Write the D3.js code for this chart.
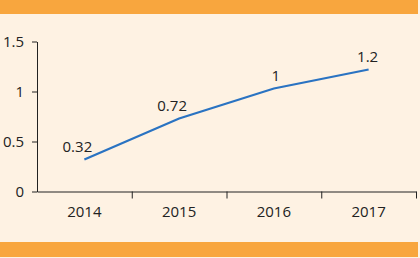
<!DOCTYPE html>
<html>
<head>
<meta charset="utf-8">
<script src="https://cdn.jsdelivr.net/npm/d3@7"></script>
<style>
  html, body { margin: 0; padding: 0; background: #fef2e3; }
  svg { display: block; }
  text { font-family: "Open Sans", sans-serif; fill: #222; }
</style>
</head>
<body>
<svg id="chart"></svg>
<script>
const years = ["2014", "2015", "2016", "2017"];
const values = [0.32, 0.73, 1.03, 1.22];
const valueLabels = ["0.32", "0.72", "1", "1.2"];
const yTicks = [0, 0.5, 1, 1.5];

const width = 420, height = 258;
const margin = { top: 41.5, right: 4, bottom: 66.5, left: 37 };

const svg = d3.select("#chart")
    .attr("width", width)
    .attr("height", height);

svg.append("rect")
    .attr("width", width).attr("height", height)
    .attr("fill", "#fef2e3");

// orange bands top and bottom
svg.append("rect")
    .attr("x", 0).attr("y", 0)
    .attr("width", 418).attr("height", 14)
    .attr("fill", "#f8a63e");
svg.append("rect")
    .attr("x", 0).attr("y", 242)
    .attr("width", 418).attr("height", 15)
    .attr("fill", "#f8a63e");

const x = d3.scaleBand()
    .domain(years)
    .range([margin.left, width - margin.right]);

const y = d3.scaleLinear()
    .domain([0, 1.5])
    .range([height - margin.bottom, margin.top]);

const axisColor = "#222";

// y axis
const yAxis = svg.append("g")
    .attr("transform", `translate(${margin.left},0)`)
    .call(d3.axisLeft(y).tickValues(yTicks).tickSize(5).tickSizeOuter(0).tickPadding(8)
        .tickFormat(d => d3.format("")(d)));
yAxis.selectAll("text").attr("font-size", 15).style("font-family", "Open Sans").attr("fill", "#222");
yAxis.selectAll("line, path").attr("stroke", axisColor);

// x axis: labels centred in bands, ticks at band boundaries
const xb = d3.scaleLinear().domain([0, years.length]).range(x.range());
const xTicks = svg.append("g")
    .attr("transform", `translate(0,${y(0)})`)
    .call(d3.axisBottom(xb).tickValues(d3.range(1, years.length + 1)).tickSize(7).tickSizeOuter(0).tickFormat(""));
xTicks.selectAll("line, path").attr("stroke", axisColor);

const xLabels = svg.append("g")
    .attr("transform", `translate(0,${y(0)})`)
    .call(d3.axisBottom(x).tickSize(0).tickPadding(15));
xLabels.select(".domain").remove();
xLabels.selectAll("text").attr("font-size", 15).style("font-family", "Open Sans").attr("fill", "#222");

// line
const pts = years.map((yr, i) => [x(yr) + x.bandwidth() / 2, y(values[i])]);
svg.append("path")
    .datum(pts)
    .attr("fill", "none")
    .attr("stroke", "#2a73c2")
    .attr("stroke-width", 2.2)
    .attr("d", d3.line());

// value labels
const nudge = [-7, -7, 2, -1];
svg.selectAll(".val")
    .data(valueLabels)
    .join("text")
    .attr("class", "val")
    .attr("x", (d, i) => pts[i][0] + nudge[i])
    .attr("y", (d, i) => pts[i][1] - 8)
    .attr("text-anchor", "middle")
    .attr("font-size", 15)
    .text(d => d);
</script>
</body>
</html>
